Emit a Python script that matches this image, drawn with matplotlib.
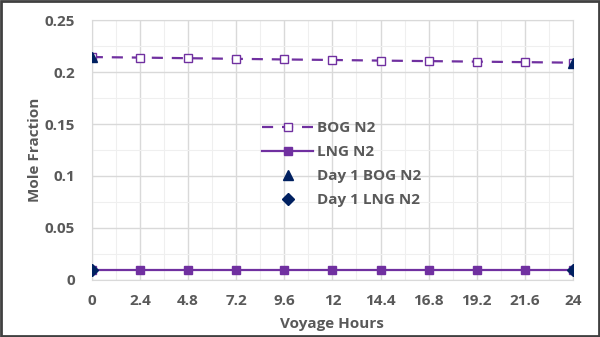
import matplotlib
matplotlib.use("Agg")
from matplotlib import pyplot as plt
from matplotlib.ticker import MultipleLocator

plt.rcParams["font.family"] = ["Open Sans", "DejaVu Sans"]

hours = [0, 2.4, 4.8, 7.2, 9.6, 12, 14.4, 16.8, 19.2, 21.6, 24]
bog_n2 = [0.2145, 0.2140, 0.2134, 0.2128, 0.2122, 0.2117, 0.2111, 0.2106, 0.2101, 0.2096, 0.2091]
lng_n2 = [0.0098] * 11
day1_hours = [0, 24]
day1_bog_n2 = [0.2145, 0.2091]
day1_lng_n2 = [0.0098, 0.0098]

purple = "#7030a0"
navy = "#002060"
textColor = "#595959"

fig = plt.figure(figsize=(6, 3.37), dpi=100)
fig.patch.set_facecolor("white")
ax = fig.add_axes([0.153, 0.17, 0.802, 0.77])

ax.plot(hours, bog_n2, ls=(0, (5, 4)), color=purple, lw=1.6, marker="s", ms=6,
        mfc="white", mec=purple, mew=1.0, label="BOG N2", zorder=3)
ax.plot(hours, lng_n2, ls="-", color=purple, lw=1.6, marker="s", ms=6,
        mfc=purple, mec=purple, label="LNG N2", zorder=3)
ax.plot(day1_hours, day1_bog_n2, ls="none", marker="^", ms=7, color=navy,
        label="Day 1 BOG N2", zorder=4)
ax.plot(day1_hours, day1_lng_n2, ls="none", marker="D", ms=6, color=navy,
        label="Day 1 LNG N2", zorder=4)

ax.set_xlim(0, 24)
ax.set_ylim(0, 0.25)
ax.set_xticks(hours)
ax.set_xticklabels(["0", "2.4", "4.8", "7.2", "9.6", "12", "14.4", "16.8", "19.2", "21.6", "24"])
ax.set_yticks([0, 0.05, 0.1, 0.15, 0.2, 0.25])
ax.set_yticklabels(["0", "0.05", "0.1", "0.15", "0.2", "0.25"])
ax.xaxis.set_minor_locator(MultipleLocator(1.2))
ax.yaxis.set_minor_locator(MultipleLocator(0.025))

ax.grid(which="major", color="#d9d9d9", lw=1.0)
ax.grid(which="minor", color="#efefef", lw=0.8)
ax.set_axisbelow(True)
for s in ax.spines.values():
  s.set_color("#d9d9d9")
ax.tick_params(which="both", length=0, colors=textColor, labelsize=11)
ax.tick_params(axis="x", pad=10)
ax.tick_params(axis="y", pad=12)
for lbl in ax.get_xticklabels() + ax.get_yticklabels():
  lbl.set_fontweight("bold")

ax.set_xlabel("Voyage Hours", color=textColor, fontsize=11, fontweight="bold", labelpad=7)
ax.set_ylabel("Mole Fraction", color=textColor, fontsize=11, fontweight="bold", labelpad=2)

leg = ax.legend(loc="center", bbox_to_anchor=(0.52, 0.445), frameon=False,
                fontsize=11, labelspacing=0.65, handlelength=3.3, handletextpad=0.3)
for t in leg.get_texts():
  t.set_color(textColor)
  t.set_fontweight("bold")

# dark frame round the whole figure
fig.patches.append(plt.Rectangle((0.002, 0.003), 0.996, 0.994, transform=fig.transFigure,
                                 fill=False, ec="#404040", lw=2))

fig.savefig("out.png", dpi=100, facecolor=fig.get_facecolor())
